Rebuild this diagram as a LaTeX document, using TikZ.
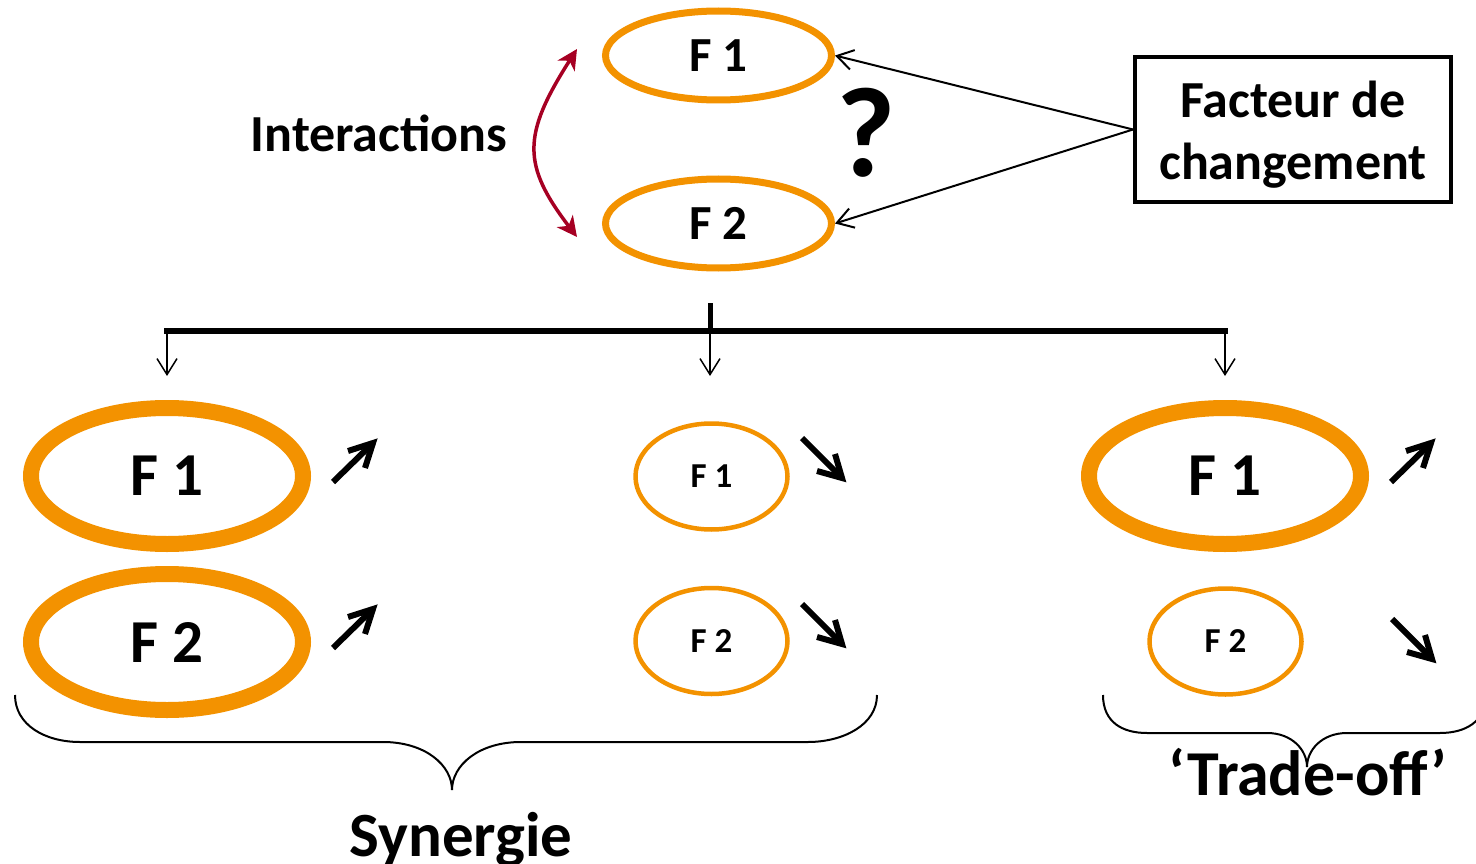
\documentclass[tikz,border=0pt]{standalone}
\usepackage{fontspec}
\setmainfont{Carlito}
\usetikzlibrary{shapes.geometric,arrows.meta}
\definecolor{orng}{RGB}{243,146,0}
\definecolor{dred}{RGB}{166,0,35}
\tikzset{
  ftxt/.style={font=\bfseries\fontsize{#1}{#1}\selectfont},
  ellbase/.style={ellipse, draw=orng, inner sep=0pt, text=black},
  topell/.style={ellbase, line width=7pt, minimum width=226pt, minimum height=89pt, ftxt=49},
  bigell/.style={ellbase, line width=16pt, minimum width=272pt, minimum height=136pt, ftxt=61},
  smallell/.style={ellbase, line width=4.5pt, minimum width=152pt, minimum height=106pt, ftxt=35},
  thinarr/.style={-{Straight Barb[length=16pt,width=20pt]}, line width=2pt},
  interarr/.style={dred, line width=3.5pt, {Stealth[length=20pt,width=20pt,inset=6pt]}-{Stealth[length=20pt,width=20pt,inset=6pt]}},
  bracepath/.style={line width=2pt},
  uparr/.pic={
    \draw[line width=6pt] (-45,44) -- (-5,5);
    \draw[line width=6pt, line join=miter] (-30,13) -- (-5,5) -- (-13,30);
  },
  downarr/.pic={
    \draw[line width=6pt] (-45,-45) -- (-5,-5);
    \draw[line width=6pt, line join=miter] (-30,-12) -- (-5,-5) -- (-12,-29);
  }
}
\begin{document}
\begin{tikzpicture}[x=1pt,y=-1pt]
\useasboundingbox (0,0) rectangle (1476,864);
\clip (0,0) rectangle (1476,864);

% top part
\node[topell] (f1t) at (718.5,55.5) {F 1};
\node[topell] (f2t) at (718.5,223.5) {F 2};
\node[draw, line width=4pt, minimum width=316pt, minimum height=145pt, inner sep=0pt,
      align=center, font=\bfseries\fontsize{52}{62}\selectfont] (fact) at (1293,129.5) {};
\node[anchor=base, font=\bfseries\fontsize{52}{62}\selectfont] (fact1) at (1293,118) {Facteur de};
\node[anchor=base, font=\bfseries\fontsize{52}{62}\selectfont] (fact2) at (1293,179) {changement};
\node[anchor=base, ftxt=52] (inter) at (379,152) {Interactions};
\node[anchor=base, ftxt=128] (qm) at (866,176) {?};

\draw[thinarr] (fact.west) -- (f1t.east);
\draw[thinarr] (fact.west) -- (f2t.east);

\coordinate (ia) at (577,49);
\coordinate (ib) at (577,237);
\draw[interarr] (ia) .. controls (522,135) and (522,165) .. (ib);

% splitter
\coordinate (stem) at (710,303);
\coordinate (bl) at (164,331);
\coordinate (bm) at (710,331);
\coordinate (br) at (1228,331);
\coordinate (tl) at (167,376);
\coordinate (tm) at (710,376);
\coordinate (tr) at (1225,376);
\draw[line width=6pt] (bl) -- (br);
\draw[line width=5pt] (stem) -- (bm);
\draw[thinarr, line width=1.5pt] (167,331) -- (tl);
\draw[thinarr, line width=1.5pt] (bm) -- (tm);
\draw[thinarr, line width=1.5pt] (1225,331) -- (tr);

% bottom ellipses
\node[bigell] (f1a) at (167,476) {F 1};
\node[bigell] (f2a) at (167,642) {F 2};
\node[smallell] (f1b) at (711.5,476.5) {F 1};
\node[smallell] (f2b) at (711.5,641) {F 2};
\node[bigell] (f1c) at (1225,476) {F 1};
\node[smallell] (f2c) at (1225.5,641.5) {F 2};

% trend arrows
\pic at (378,438) {uparr};
\pic at (378,604) {uparr};
\pic at (847,483) {downarr};
\pic at (847,649) {downarr};
\pic at (1436,438) {uparr};
\pic at (1437,664) {downarr};

% braces
\draw[bracepath] (15,695) .. controls (15,725) and (45,742) .. (80,742) -- (383,742)
  .. controls (425,742) and (452,765) .. (452,790)
  .. controls (452,765) and (479,742) .. (521,742) -- (808,742)
  .. controls (843,742) and (877,725) .. (877,695);
\draw[bracepath] (1103,695) .. controls (1103,722) and (1122,733) .. (1147,733) -- (1267,733)
  .. controls (1292,733) and (1307,750) .. (1307,767)
  .. controls (1307,750) and (1322,733) .. (1347,733) -- (1440,733)
  .. controls (1465,733) and (1486,722) .. (1486,695);

\node[anchor=base, ftxt=63] (syn) at (461,856) {Synergie};
\node[anchor=base, ftxt=64] (trade) at (1308,795) {‘Trade-off’};
\end{tikzpicture}
\end{document}
